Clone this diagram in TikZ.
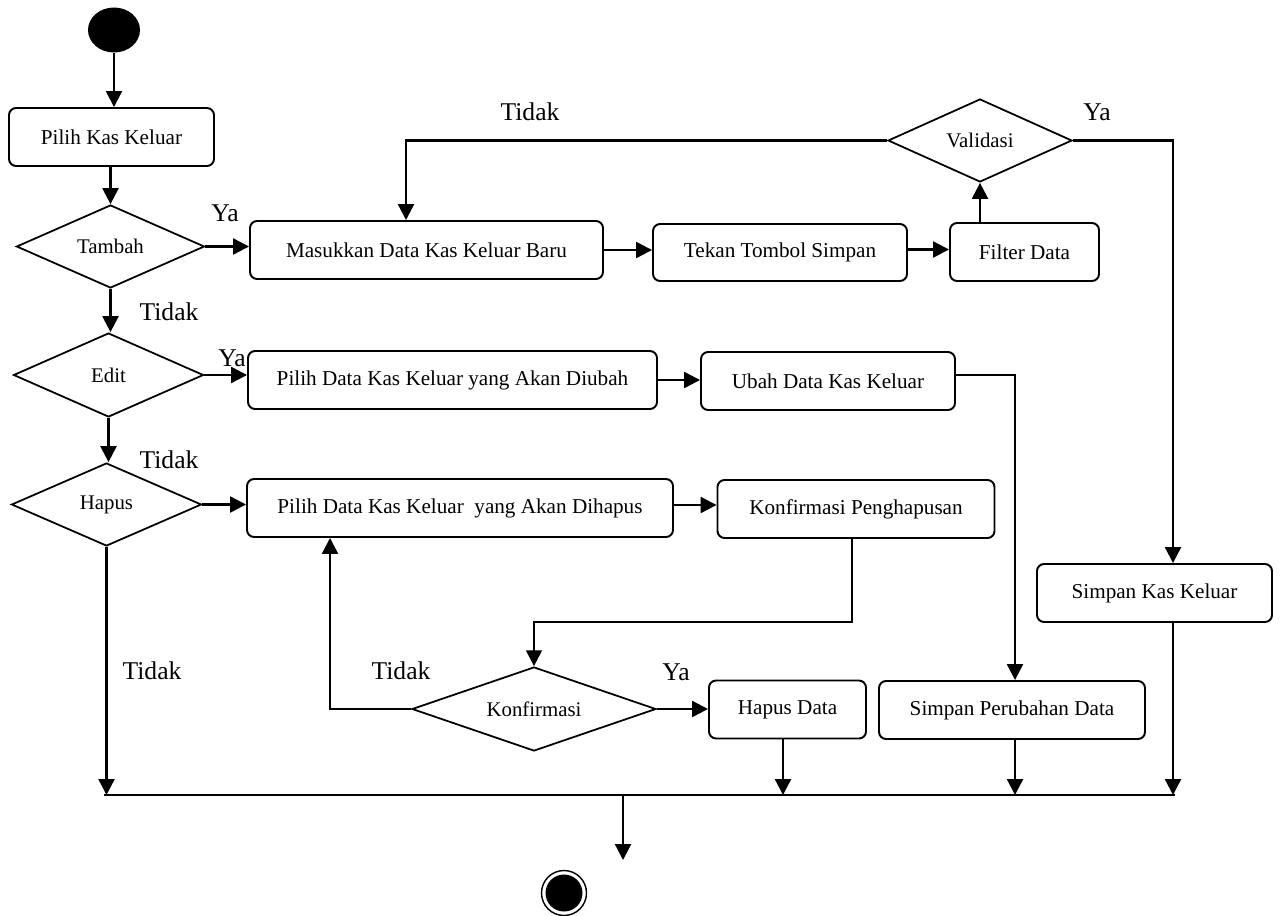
\documentclass[tikz,border=0pt]{standalone}
\usepackage{fontspec}
\setmainfont{Liberation Serif}
\usetikzlibrary{arrows.meta,shapes.geometric,calc}
\def\pxu{0.5669pt}
\tikzset{
  box/.style args={#1/#2}{draw, line width=1.1pt, rounded corners=4pt, inner sep=0pt,
    minimum width=#1*\pxu, minimum height=#2*\pxu, font=\fontsize{12}{14}\selectfont},
  dec/.style args={#1/#2}{draw, diamond, line width=1pt, inner sep=0pt, shape aspect=2.27,
    minimum width=#1*\pxu, minimum height=#2*\pxu, font=\fontsize{11.8}{14}\selectfont},
  lbl/.style={font=\fontsize{14.5}{17}\selectfont, inner sep=0pt},
  arr/.style={-{Triangle[length=9pt,width=9pt]}, line width=1.3pt},
  ln/.style={line width=1.3pt}
}
\begin{document}
\begin{tikzpicture}[x=\pxu, y=-\pxu]
\useasboundingbox (0,0) rectangle (1280,915);

% start / end
\node[ellipse, fill, inner sep=0pt, minimum width=52*\pxu, minimum height=45*\pxu] (start) at (114,30) {};
\node[circle, draw, line width=0.8pt, inner sep=0pt, minimum size=45*\pxu] (finish) at (564,893) {};
\node[circle, fill, inner sep=0pt, minimum size=37*\pxu] (finishdot) at (finish) {};

% activities and decisions
\node[box={205/58}] (pilih) at (111.5,137) {Pilih Kas Keluar};
\node[dec={188/83}] (tambah) at (110.5,246.5) {Tambah};
\node[box={353/58}] (masuk) at (426.5,250) {Masukkan Data Kas Keluar Baru};
\node[box={254/57}] (tekan) at (780,252.5) {Tekan Tombol Simpan};
\node[box={149/58}] (filter) at (1024.5,252) {Filter Data};
\node[dec={184/83}] (valid) at (980,140.5) {Validasi};
\node[box={235/58}] (simpank) at (1154.5,593) {Simpan Kas Keluar};
\node[dec={190/84}] (edit) at (108.5,375) {Edit};
\node[box={409/58}] (ubahpilih) at (452.5,380) {Pilih Data Kas Keluar yang Akan Diubah};
\node[box={254/58}] (ubah) at (828,381) {Ubah Data Kas Keluar};
\node[dec={190/83}] (hapus) at (106.5,504.5) {Hapus};
\node[box={426/58}] (hapuspilih) at (460,508) {Pilih Data Kas Keluar~ yang Akan Dihapus};
\node[box={277/58}] (konf) at (856,509) {Konfirmasi Penghapusan};
\node[dec={244/84}] (konfq) at (534,709) {Konfirmasi};
\node[box={157/58}] (hapusdata) at (787.5,709.5) {Hapus Data};
\node[box={266/58}] (simpanper) at (1012,710) {Simpan Perubahan Data};

% join bar
\coordinate (barL) at (104,795);
\coordinate (barR) at (1175,795);
\coordinate (barOut) at (623,795);
\coordinate (barTip) at (623,860);
\draw[ln] (barL) -- (barR);

% helper points
\coordinate (tk) at ([yshift=3*\pxu]tekan.east);
\coordinate (hp) at ([yshift=3*\pxu]hapuspilih.east);
\coordinate (ub) at ([yshift=6*\pxu]ubah.east);
\coordinate (sk) at ([xshift=18.5*\pxu]simpank.south);
\coordinate (hd) at ([xshift=-4.5*\pxu]hapusdata.south);
\coordinate (sp) at ([xshift=3*\pxu]simpanper.south);

% connectors
\draw[arr] (start) -- (start |- pilih.north);
\draw[arr] (tambah.north |- pilih.south) -- (tambah.north);
\draw[arr] (tambah.east) -- (tambah.east -| masuk.west);
\draw[arr] (masuk.east) -- (masuk.east -| tekan.west);
\draw[arr] (tk) -- (tk -| filter.west);
\draw[arr] (valid.south |- filter.north) -- (valid.south);
\draw[arr] (valid.west) -| ([xshift=-20.5*\pxu]masuk.north);
\draw[arr] (valid.east) -| ([xshift=18.5*\pxu]simpank.north);
\draw[arr] (sk) -- (sk |- barL);

\draw[arr] (tambah.south) -- (tambah.south |- edit.north);
\draw[arr] (edit.east) -- (edit.east -| ubahpilih.west);
\draw[arr] (ubahpilih.east) -- (ubahpilih.east -| ubah.west);
\draw[arr] (ub) -| ([xshift=3*\pxu]simpanper.north);
\draw[arr] (sp) -- (sp |- barL);

\draw[arr] (edit.south) -- (edit.south |- hapus.north);
\draw[arr] (hapus.east) -- (hapus.east -| hapuspilih.west);
\draw[arr] (hp) -- (hp -| konf.west);
\draw[arr] ([xshift=-4*\pxu]konf.south) -- ++(0,83) -| (konfq.north);
\draw[arr] (konfq.west) -| ([xshift=-130*\pxu]hapuspilih.south);
\draw[arr] (konfq.east) -- (konfq.east -| hapusdata.west);
\draw[arr] (hd) -- (hd |- barL);
\draw[arr] (hapus.south) -- (hapus.south |- barL);
\draw[arr] (barOut) -- (barTip);

% guard labels
\node[lbl] (ya1) at (225,213) {Ya};
\node[lbl] (tidak1) at (169,312) {Tidak};
\node[lbl] (ya2) at (232,358) {Ya};
\node[lbl] (tidak2) at (169,460) {Tidak};
\node[lbl] (tidak3) at (152,671) {Tidak};
\node[lbl] (tidak4) at (401,671) {Tidak};
\node[lbl] (ya3) at (676,672) {Ya};
\node[lbl] (tidak5) at (530,112) {Tidak};
\node[lbl] (ya4) at (1097,112) {Ya};
\end{tikzpicture}
\end{document}
